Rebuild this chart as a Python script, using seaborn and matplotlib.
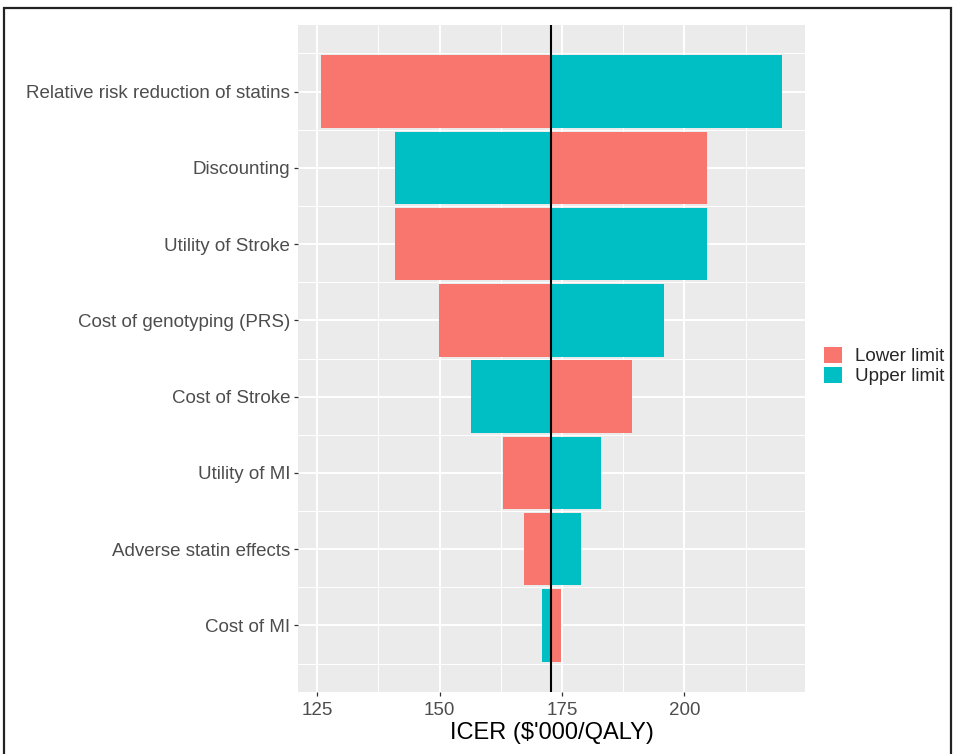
import matplotlib
matplotlib.use("Agg")
import matplotlib.pyplot as plt
from matplotlib.patches import Patch, Rectangle
import numpy as np
import pandas as pd
import seaborn as sns

# One-way sensitivity analysis: ICER at the lower and upper limit of each parameter
parameters = [
    "Relative risk reduction of statins",
    "Discounting",
    "Utility of Stroke",
    "Cost of genotyping (PRS)",
    "Cost of Stroke",
    "Utility of MI",
    "Adverse statin effects",
    "Cost of MI",
]
lower_limit = [125.8, 204.6, 141.0, 149.8, 189.3, 163.0, 167.3, 174.8]
upper_limit = [219.9, 141.0, 204.6, 195.8, 156.4, 182.9, 178.8, 171.0]
base_icer = 172.8

series_names = ["Lower limit", "Upper limit"]
series_colors = {"Lower limit": "#F8766D", "Upper limit": "#00BFC4"}
x_ticks = [125, 150, 175, 200]
x_minor = [137.5, 162.5, 187.5, 212.5]

df = pd.DataFrame({
    "parameter": parameters * 2,
    "limit": ["Lower limit"] * len(parameters) + ["Upper limit"] * len(parameters),
    "icer": lower_limit + upper_limit,
})
df["pos"] = df["parameter"].map({p: i for i, p in enumerate(parameters)})

sns.set_theme(style="darkgrid", rc={
    "axes.facecolor": "#EBEBEB",
    "grid.color": "white",
    "axes.edgecolor": "#EBEBEB",
})
plt.rcParams["font.family"] = ["Liberation Sans", "DejaVu Sans"]

W, H = 954, 754
fig = plt.figure(figsize=(W / 100, H / 100), dpi=100)
ax = fig.add_axes([298 / W, 1 - 692 / H, 507 / W, 667 / H])

bar_h = 0.95
for name in series_names:
    sub = df[df["limit"] == name]
    ax.barh(sub["pos"], sub["icer"] - base_icer, left=base_icer, height=bar_h,
            color=series_colors[name], edgecolor="none", zorder=2)

ax.axvline(base_icer, color="black", lw=1.5, zorder=3)

lo, hi = df["icer"].min(), df["icer"].max()
pad = 0.05 * (hi - lo)
ax.set_xlim(lo - pad, hi + pad)
n = len(parameters)
ypad = 0.05 * (n - 1 + bar_h)
ax.set_ylim(n - 1 + bar_h / 2 + ypad, -bar_h / 2 - ypad)

ax.set_xticks(x_ticks)
ax.set_xticks(x_minor, minor=True)
ax.set_yticks(range(n))
ax.set_yticklabels(parameters, va="center_baseline")
ax.set_yticks(np.arange(-0.5, n, 1.0), minor=True)

ax.grid(which="major", color="white", lw=1.4, zorder=0)
ax.grid(which="minor", color="white", lw=0.7, zorder=0)
ax.set_axisbelow(True)

ax.tick_params(axis="both", which="major", length=3, width=0.9, color="#333333",
               labelsize=13.5, labelcolor="#4D4D4D", pad=2.5, bottom=True, left=True)
ax.tick_params(axis="x", which="major", pad=4)
ax.tick_params(axis="both", which="minor", length=0)
for s in ax.spines.values():
    s.set_visible(False)

ax.set_xlabel("ICER ($'000/QALY)", fontsize=17, color="black", labelpad=2)
ax.set_ylabel("")

handles = [Patch(facecolor=series_colors[s], edgecolor="none") for s in series_names]
fig.legend(handles, series_names, loc="center left",
           bbox_to_anchor=(824 / W, 1 - 366 / H), frameon=False,
           fontsize=13.5, handlelength=0.98, handleheight=0.92,
           handletextpad=0.7, labelspacing=0.1, borderpad=0, borderaxespad=0)

# frame around the figure
fig.patches.append(Rectangle((4 / W, -0.05), (951 - 4) / W, (H - 8) / H + 0.05,
                             transform=fig.transFigure, fill=False,
                             edgecolor="#222222", lw=1.6, zorder=10))

fig.savefig("out.png", dpi=100, facecolor="white")
